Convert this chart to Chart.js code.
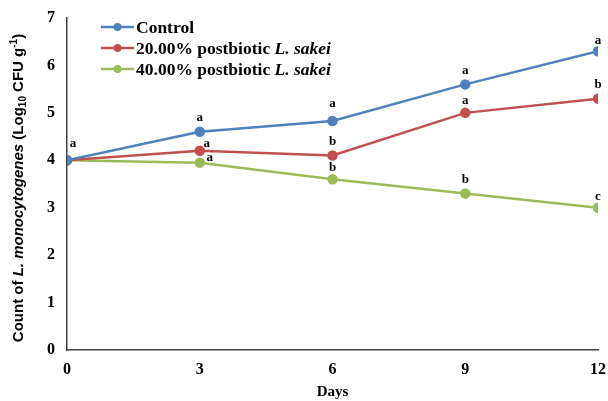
<!DOCTYPE html>
<html>
<head>
<meta charset="utf-8">
<script src="https://cdn.jsdelivr.net/npm/chart.js@4/dist/chart.umd.min.js"></script>
<style>
  html, body { margin: 0; padding: 0; background: #fff; }
  #wrap { width: 608px; height: 401px; }
</style>
</head>
<body>
<div id="wrap"><canvas id="chart"></canvas></div>
<script>
const days = [0, 3, 6, 9, 12];
const control = [4.0, 4.6, 4.83, 5.6, 6.3];
const post20 = [4.0, 4.2, 4.1, 5.0, 5.3];
const post40 = [4.0, 3.95, 3.6, 3.3, 3.0];
const lettersControl = ['a', 'a', 'a', 'a', 'a'];
const letters20 = [null, 'a', 'b', 'a', 'b'];
const letters40 = [null, 'a', 'b', 'b', 'c'];
const seriesNames = [
  [{ t: 'Control' }],
  [{ t: '20.00% postbiotic ' }, { t: 'L. sakei', i: true }],
  [{ t: '40.00% postbiotic ' }, { t: 'L. sakei', i: true }],
];

const FONT = "'Liberation Serif', 'DejaVu Serif', serif";
const SANS = "'Liberation Sans', Arial, sans-serif";
const colors = ['#4f81bd', '#c0504d', '#9bbb59'];

function pts(values) {
  return values.map((v, i) => ({ x: days[i], y: v }));
}

function drawRuns(ctx, runs, x, y, size, family) {
  runs.forEach((r) => {
    ctx.font = (r.i ? 'italic ' : '') + 'bold ' + (r.size || size) + 'px ' + family;
    const w = ctx.measureText(r.t).width;
    ctx.fillText(r.t, x, y + (r.dy || 0));
    x += w;
  });
  return x;
}

const extras = {
  id: 'extras',
  afterDatasetsDraw(chart) {
    const ctx = chart.ctx;
    ctx.save();
    ctx.fillStyle = '#000';
    ctx.textBaseline = 'middle';

    // significance letters
    const letterSets = [lettersControl, letters20, letters40];
    letterSets.forEach((set, di) => {
      const meta = chart.getDatasetMeta(di);
      set.forEach((l, i) => {
        if (!l) return;
        const p = meta.data[i];
        let dx = 0, dy = -14;
        if (i === 0) { dx = 6; dy = -17; }
        if (i === 1 && di === 1) { dx = 7; dy = -7; }
        if (i === 1 && di === 2) { dx = 10; dy = -5; }
        if (i === 2 && di === 0) dy = -17;
        if (i === 2 && di === 2) dy = -12;
        if (i === 3 && di === 1) dy = -12;
        if (i === 4 && di !== 1) dy = -11;
        ctx.font = 'bold 13px ' + FONT;
        ctx.textAlign = 'center';
        ctx.fillText(l, p.x + dx, p.y + dy);
      });
    });

    // legend
    ctx.textAlign = 'left';
    seriesNames.forEach((runs, i) => {
      const y = 27 + i * 21;
      ctx.strokeStyle = colors[i];
      ctx.lineWidth = 2.5;
      ctx.beginPath();
      ctx.moveTo(101, y);
      ctx.lineTo(134, y);
      ctx.stroke();
      ctx.fillStyle = colors[i];
      ctx.beginPath();
      ctx.arc(117.5, y, 4, 0, Math.PI * 2);
      ctx.fill();
      ctx.fillStyle = '#000';
      drawRuns(ctx, runs, 136, y + 1, 17.5, FONT);
    });

    // y axis title
    ctx.translate(19, 188);
    ctx.rotate(-Math.PI / 2);
    const title = [
      { t: 'Count of ' },
      { t: 'L. monocytogenes', i: true },
      { t: ' (Log' },
      { t: '10', size: 10, dy: 4 },
      { t: ' CFU g' },
      { t: '-1', size: 10, dy: -5 },
      { t: ')' },
    ];
    let total = 0;
    title.forEach((r) => {
      ctx.font = (r.i ? 'italic ' : '') + 'bold ' + (r.size || 15) + 'px ' + SANS;
      total += ctx.measureText(r.t).width;
    });
    drawRuns(ctx, title, -total / 2, 0, 15, SANS);
    ctx.restore();
  },
};

new Chart(document.getElementById('chart'), {
  type: 'line',
  data: {
    datasets: [control, post20, post40].map((vals, i) => ({
      label: seriesNames[i].map((r) => r.t).join(''),
      data: pts(vals),
      borderColor: colors[i],
      backgroundColor: colors[i],
      borderWidth: 2.5,
      pointRadius: 4,
      pointHoverRadius: 4,
      tension: 0,
    })),
  },
  options: {
    responsive: true,
    maintainAspectRatio: false,
    animation: false,
    layout: { padding: { top: 18, right: 10, left: 0, bottom: 0 } },
    plugins: { legend: { display: false }, tooltip: { enabled: false } },
    scales: {
      x: {
        type: 'linear',
        min: 0,
        max: 12,
        grid: { display: false, drawTicks: false },
        border: { color: '#404040', width: 1.5 },
        ticks: {
          stepSize: 3,
          padding: 10,
          color: '#000',
          font: { family: FONT, weight: 'bold', size: 16 },
        },
        title: {
          display: true,
          text: 'Days',
          color: '#000',
          padding: { top: 2, bottom: 0 },
          font: { family: FONT, weight: 'bold', size: 15 },
        },
        afterFit(s) {
          s.height = 51;
          s.paddingLeft = 0;
          s.paddingRight = 0;
        },
      },
      y: {
        min: 0,
        max: 7,
        grid: { display: false, drawTicks: false },
        border: { color: '#404040', width: 1.5 },
        ticks: {
          stepSize: 1,
          padding: 12,
          color: '#000',
          font: { family: FONT, weight: 'bold', size: 16 },
        },
        afterFit(s) {
          s.width = 67;
          s.paddingTop = 0;
          s.paddingBottom = 0;
        },
      },
    },
  },
  plugins: [extras],
});
</script>
</body>
</html>
